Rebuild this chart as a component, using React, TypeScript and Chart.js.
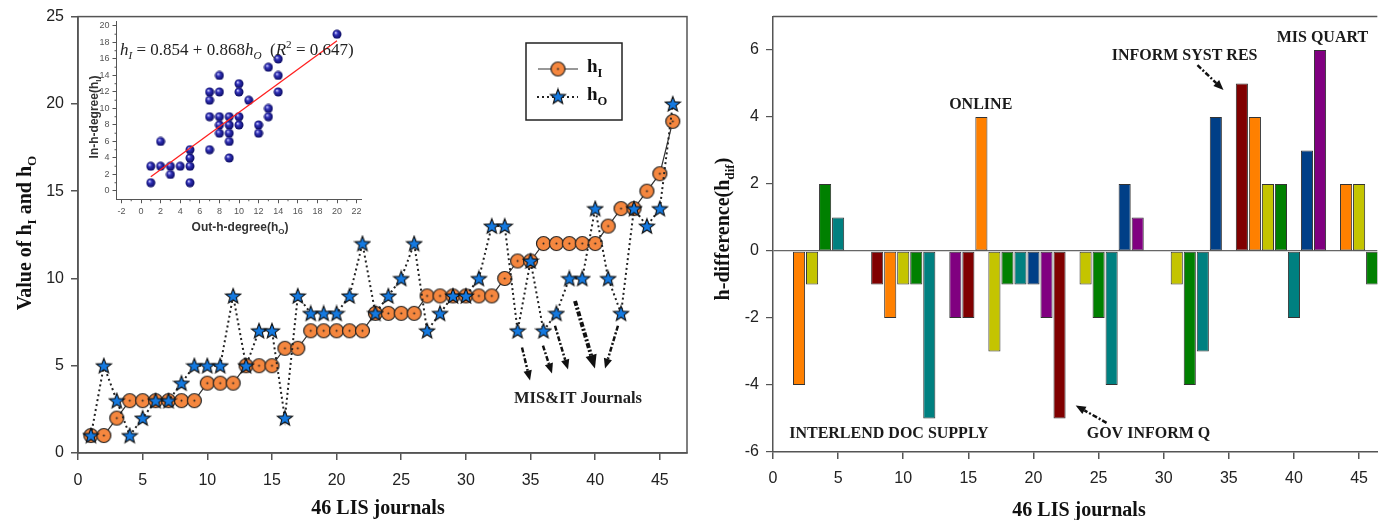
import React, { useEffect, useRef } from 'react';
import { Chart, registerables } from 'chart.js';

Chart.register(...registerables);

// ---------------- data ----------------
const journals = [1,2,3,4,5,6,7,8,9,10,11,12,13,14,15,16,17,18,19,20,21,22,23,24,25,26,27,28,29,30,31,32,33,34,35,36,37,38,39,40,41,42,43,44,45,46];
const hI = [1,1,2,3,3,3,3,3,3,4,4,4,5,5,5,6,6,7,7,7,7,7,8,8,8,8,9,9,9,9,9,9,10,11,11,12,12,12,12,12,13,14,14,15,16,19];
const hO = [1,5,3,1,2,3,3,4,5,5,5,9,5,7,7,2,9,8,8,8,9,12,8,9,10,12,7,8,9,9,10,13,13,7,11,7,8,10,10,14,10,8,14,13,14,20];
const hDif = [0,-4,-1,2,1,0,0,-1,-2,-1,-1,-5,0,-2,-2,4,-3,-1,-1,-1,-2,-5,0,-1,-2,-4,2,1,0,0,-1,-4,-3,4,0,5,4,2,2,-2,3,6,0,2,2,-1];
const insetHO = [1,1,2,2,3,3,4,5,5,5,5,7,7,7,7,8,8,8,8,8,9,9,9,9,9,10,10,10,10,11,12,12,13,13,13,14,14,14,20];
const insetHI = [1,3,6,3,3,2,3,1,3,4,5,5,9,11,12,14,12,9,8,7,9,8,7,6,4,13,12,9,8,11,8,7,15,10,9,16,14,12,19];
const regX = [1, 20];
const regY = [1.72, 18.21];

// ---------------- styles / annotations ----------------
const barPalette = ['#800080', '#800000', '#FF8000', '#C4C400', '#008000', '#008080', '#003F87'];
const SERIF = '"Liberation Serif", "Times New Roman", serif';
const SANS = '"Liberation Sans", Arial, sans-serif';
// [x1, y1, x2, y2, width] in data coordinates
const misArrows = [
  [34.34, 6.04, 34.96, 4.16, 2.5],
  [35.96, 6.15, 36.66, 4.56, 2.5],
  [36.89, 7.29, 37.9, 4.78, 2.5],
  [38.44, 8.71, 39.98, 4.84, 4],
  [41.76, 7.29, 40.76, 4.84, 2.5],
];
const rightLabels: [string, number, number][] = [
  ['ONLINE', 15.95, 4.37],
  ['INFORM SYST RES', 31.6, 5.84],
  ['MIS QUART', 42.18, 6.37],
  ['INTERLEND DOC SUPPLY', 8.9, -5.46],
  ['GOV INFORM Q', 28.83, -5.46],
];
const rightArrows = [
  [32.59, 5.55, 34.59, 4.81, 2.5],
  [25.61, -5.13, 23.24, -4.61, 2.5],
];

type Seg = { t: string; sub?: boolean; sup?: boolean; italic?: boolean };

function drawRich(ctx: CanvasRenderingContext2D, segs: Seg[], x: number, y: number,
  o: { size: number; family: string; weight?: string; italic?: boolean; align?: 'center' | 'left'; rotate?: boolean; color?: string }) {
  ctx.save();
  ctx.translate(x, y);
  if (o.rotate) ctx.rotate(-Math.PI / 2);
  ctx.fillStyle = o.color || '#111';
  ctx.textBaseline = 'alphabetic';
  ctx.textAlign = 'left';
  const fontFor = (s: Seg) => {
    const sz = s.sub || s.sup ? o.size * 0.66 : o.size;
    const it = (s.italic ?? o.italic) ? 'italic ' : '';
    return `${it}${o.weight || 'normal'} ${sz}px ${o.family}`;
  };
  let w = 0;
  for (const s of segs) { ctx.font = fontFor(s); w += ctx.measureText(s.t).width; }
  let cx = o.align === 'left' ? 0 : -w / 2;
  const base = o.size * 0.34;
  for (const s of segs) {
    ctx.font = fontFor(s);
    const dy = s.sub ? o.size * 0.26 : s.sup ? -o.size * 0.38 : 0;
    ctx.fillText(s.t, cx, base + dy);
    cx += ctx.measureText(s.t).width;
  }
  ctx.restore();
}

function drawArrow(ctx: CanvasRenderingContext2D, x1: number, y1: number, x2: number, y2: number, w: number) {
  const ang = Math.atan2(y2 - y1, x2 - x1);
  const head = 4 + w * 2.4;
  const hx = x2 - head * Math.cos(ang), hy = y2 - head * Math.sin(ang);
  ctx.save();
  ctx.strokeStyle = '#111';
  ctx.fillStyle = '#111';
  ctx.lineWidth = w;
  ctx.setLineDash([5, 2, 2, 2]);
  ctx.beginPath(); ctx.moveTo(x1, y1); ctx.lineTo(hx, hy); ctx.stroke();
  ctx.setLineDash([]);
  const px = -Math.sin(ang), py = Math.cos(ang);
  const hw = head * 0.42;
  ctx.beginPath();
  ctx.moveTo(x2, y2);
  ctx.lineTo(hx + px * hw, hy + py * hw);
  ctx.lineTo(hx - px * hw, hy - py * hw);
  ctx.closePath(); ctx.fill();
  ctx.restore();
}

function makeCircle() {
  const c = document.createElement('canvas'); c.width = 17; c.height = 17;
  const g = c.getContext('2d')!;
  g.beginPath(); g.arc(8.5, 8.5, 7, 0, Math.PI * 2);
  g.fillStyle = '#F5873F'; g.fill();
  g.lineWidth = 1.2; g.strokeStyle = '#222'; g.stroke();
  g.beginPath(); g.arc(8.5, 8.5, 1, 0, Math.PI * 2); g.fillStyle = '#222'; g.fill();
  return c;
}
function makeStar() {
  const c = document.createElement('canvas'); c.width = 18; c.height = 18;
  const g = c.getContext('2d')!;
  g.beginPath();
  for (let i = 0; i < 10; i++) {
    const r = i % 2 === 0 ? 8 : 3.4;
    const a = -Math.PI / 2 + i * Math.PI / 5;
    const px = 9 + r * Math.cos(a), py = 9.6 + r * Math.sin(a);
    if (i === 0) g.moveTo(px, py); else g.lineTo(px, py);
  }
  g.closePath();
  g.fillStyle = '#1479E0'; g.fill();
  g.lineWidth = 1.1; g.strokeStyle = '#111'; g.stroke();
  return c;
}
function makeSphere() {
  const c = document.createElement('canvas'); c.width = 10; c.height = 10;
  const g = c.getContext('2d')!;
  const gr = g.createRadialGradient(3.6, 3.4, 0.3, 5, 5, 4.8);
  gr.addColorStop(0, '#c8c8ff');
  gr.addColorStop(0.35, '#3030b8');
  gr.addColorStop(1, '#08085a');
  g.beginPath(); g.arc(5, 5, 4.5, 0, Math.PI * 2); g.fillStyle = gr; g.fill();
  return c;
}

const tickFont = { family: SANS, size: 16 };

export default function App() {
  const leftRef = useRef<HTMLCanvasElement>(null);
  const insetRef = useRef<HTMLCanvasElement>(null);
  const rightRef = useRef<HTMLCanvasElement>(null);

  useEffect(() => {
    const circleImg = makeCircle();
    const starImg = makeStar();
    const sphereImg = makeSphere();

    const leftDecor = {
      id: 'leftDecor',
      afterDraw(chart: any) {
        const { ctx, chartArea: a, scales: { x, y } } = chart;
        ctx.save();
        ctx.strokeStyle = '#555'; ctx.lineWidth = 1.5;
        ctx.strokeRect(a.left, a.top, a.right - a.left, a.bottom - a.top);
        // legend
        ctx.strokeStyle = '#222'; ctx.lineWidth = 1.5;
        ctx.strokeRect(526, 43, 96, 77);
        ctx.lineWidth = 1.2; ctx.strokeStyle = '#333';
        ctx.beginPath(); ctx.moveTo(538, 69); ctx.lineTo(578, 69); ctx.stroke();
        ctx.drawImage(circleImg, 558 - 8.5, 69 - 8.5);
        ctx.lineWidth = 2; ctx.strokeStyle = '#222'; ctx.setLineDash([2, 3]);
        ctx.beginPath(); ctx.moveTo(537, 97); ctx.lineTo(578, 97); ctx.stroke();
        ctx.setLineDash([]);
        ctx.drawImage(starImg, 558 - 9, 97 - 9.6);
        drawRich(ctx, [{ t: 'h' }, { t: 'I', sub: true }], 587, 66, { size: 19, family: SERIF, weight: 'bold', align: 'left' });
        drawRich(ctx, [{ t: 'h' }, { t: 'O', sub: true }], 587, 94, { size: 19, family: SERIF, weight: 'bold', align: 'left' });
        // arrows & text
        for (const ar of misArrows) {
          drawArrow(ctx, x.getPixelForValue(ar[0]), y.getPixelForValue(ar[1]), x.getPixelForValue(ar[2]), y.getPixelForValue(ar[3]), ar[4]);
        }
        ctx.fillStyle = '#222';
        ctx.font = `bold 16.5px ${SERIF}`;
        ctx.textAlign = 'center'; ctx.textBaseline = 'middle';
        ctx.fillText('MIS&IT Journals', x.getPixelForValue(38.67), y.getPixelForValue(3.13));
        // axis titles
        drawRich(ctx, [{ t: 'Value of h' }, { t: 'I', sub: true }, { t: ' and h' }, { t: 'O', sub: true }], 24, 233, { size: 20, family: SERIF, weight: 'bold', rotate: true, color: '#111' });
        drawRich(ctx, [{ t: '46 LIS journals' }], 378, 507, { size: 20, family: SERIF, weight: 'bold', color: '#111' });
        ctx.restore();
      },
    };

    const left = new Chart(leftRef.current!, {
      type: 'line',
      data: {
        datasets: [
          {
            label: 'hO',
            data: journals.map((j, i) => ({ x: j, y: hO[i] })),
            borderColor: '#222', borderWidth: 2, borderDash: [2, 3],
            pointStyle: starImg as any, pointRadius: 8, order: 1,
          },
          {
            label: 'hI',
            data: journals.map((j, i) => ({ x: j, y: hI[i] })),
            borderColor: '#333', borderWidth: 1.2,
            pointStyle: circleImg as any, pointRadius: 8, order: 2,
          },
        ],
      },
      options: {
        animation: false, responsive: false, maintainAspectRatio: false,
        layout: { padding: { top: 14, right: 13, left: 0, bottom: 0 } },
        plugins: { legend: { display: false }, tooltip: { enabled: false } },
        scales: {
          x: {
            type: 'linear', min: 0, max: 47.1,
            ticks: { stepSize: 5, includeBounds: false, autoSkip: false, maxRotation: 0, font: tickFont, color: '#222', padding: 11 },
            grid: { drawOnChartArea: false, tickLength: 7, color: '#555', lineWidth: 1.5 },
            border: { color: '#555', width: 1.5 },
            afterFit: (s: any) => { s.height = 67; },
          },
          y: {
            type: 'linear', min: 0, max: 25,
            ticks: { stepSize: 5, includeBounds: false, font: tickFont, color: '#222', padding: 7 },
            grid: { drawOnChartArea: false, tickLength: 7, color: '#555', lineWidth: 1.5 },
            border: { color: '#555', width: 1.5 },
            afterFit: (s: any) => { s.width = 78; },
          },
        },
      } as any,
      plugins: [leftDecor],
    });

    const insetDecor = {
      id: 'insetDecor',
      afterDraw(chart: any) {
        const { ctx, chartArea: a, scales: { x, y } } = chart;
        ctx.save();
        ctx.strokeStyle = '#555'; ctx.lineWidth = 1;
        for (let v = -1; v <= 21; v += 2) {
          const px = x.getPixelForValue(v);
          ctx.beginPath(); ctx.moveTo(px, a.bottom); ctx.lineTo(px, a.bottom + 2); ctx.stroke();
        }
        for (let v = 1; v <= 19; v += 2) {
          const py = y.getPixelForValue(v);
          ctx.beginPath(); ctx.moveTo(a.left, py); ctx.lineTo(a.left - 2, py); ctx.stroke();
        }
        drawRich(ctx, [
          { t: 'h', italic: true }, { t: 'I', sub: true, italic: true }, { t: ' = 0.854 + 0.868' },
          { t: 'h', italic: true }, { t: 'O', sub: true, italic: true }, { t: '  (' },
          { t: 'R', italic: true }, { t: '2', sup: true }, { t: ' = 0.647)' },
        ], 40, 39, { size: 17, family: SERIF, align: 'left', color: '#222' });
        drawRich(ctx, [{ t: 'In-h-degree(h' }, { t: 'I', sub: true }, { t: ')' }], 14, 107, { size: 12, family: SANS, weight: 'bold', rotate: true, color: '#333' });
        drawRich(ctx, [{ t: 'Out-h-degree(h' }, { t: 'O', sub: true }, { t: ')' }], 160, 217, { size: 12, family: SANS, weight: 'bold', color: '#333' });
        ctx.restore();
      },
    };

    const inset = new Chart(insetRef.current!, {
      type: 'scatter',
      data: {
        datasets: [
          {
            label: 'reg',
            type: 'line',
            data: regX.map((v, i) => ({ x: v, y: regY[i] })),
            borderColor: '#FF2020', borderWidth: 1.3, pointRadius: 0, showLine: true, order: 0,
          } as any,
          {
            label: 'journals',
            data: insetHO.map((v, i) => ({ x: v, y: insetHI[i] })),
            pointStyle: sphereImg as any, pointRadius: 5, order: 1,
          },
        ],
      },
      options: {
        animation: false, responsive: false, maintainAspectRatio: false,
        layout: { padding: { top: 11, right: 8.5, left: 0, bottom: 0 } },
        plugins: { legend: { display: false }, tooltip: { enabled: false } },
        scales: {
          x: {
            type: 'linear', min: -2.5, max: 22.5,
            ticks: { stepSize: 2, includeBounds: false, autoSkip: false, maxRotation: 0, font: { family: SANS, size: 9 }, color: '#555', padding: 3 },
            grid: { drawOnChartArea: false, tickLength: 4, color: '#555' },
            border: { color: '#555', width: 1 },
            afterFit: (s: any) => { s.height = 45.75; },
          },
          y: {
            type: 'linear', min: -1, max: 20.6,
            ticks: { stepSize: 2, includeBounds: false, autoSkip: false, font: { family: SANS, size: 9 }, color: '#555', padding: 3 },
            grid: { drawOnChartArea: false, tickLength: 4, color: '#555' },
            border: { color: '#555', width: 1 },
            afterFit: (s: any) => { s.width = 36.5; },
          },
        },
      } as any,
      plugins: [insetDecor],
    });

    const rightDecor = {
      id: 'rightDecor',
      afterDraw(chart: any) {
        const { ctx, chartArea: a, scales: { x, y } } = chart;
        ctx.save();
        ctx.strokeStyle = '#555'; ctx.lineWidth = 1.5;
        ctx.beginPath(); ctx.moveTo(a.left, a.top); ctx.lineTo(a.right, a.top); ctx.stroke();
        ctx.fillStyle = '#1a1a1a';
        ctx.font = `bold 16px ${SERIF}`;
        ctx.textAlign = 'center'; ctx.textBaseline = 'middle';
        for (const [t, vx, vy] of rightLabels) {
          ctx.fillText(t, x.getPixelForValue(vx), y.getPixelForValue(vy));
        }
        for (const ar of rightArrows) {
          drawArrow(ctx, x.getPixelForValue(ar[0]), y.getPixelForValue(ar[1]), x.getPixelForValue(ar[2]), y.getPixelForValue(ar[3]), ar[4]);
        }
        drawRich(ctx, [{ t: 'h-difference(h' }, { t: 'dif', sub: true }, { t: ')' }], 32, 229, { size: 20, family: SERIF, weight: 'bold', rotate: true, color: '#111' });
        drawRich(ctx, [{ t: '46 LIS journals' }], 389, 509, { size: 20, family: SERIF, weight: 'bold', color: '#111' });
        ctx.restore();
      },
    };

    const right = new Chart(rightRef.current!, {
      type: 'bar',
      data: {
        datasets: [
          {
            label: 'hdif',
            data: journals.map((j, i) => ({ x: j, y: hDif[i] })),
            backgroundColor: journals.map((j) => barPalette[j % 7]),
            borderColor: '#333', borderWidth: 1, borderSkipped: false,
            barPercentage: 0.93, categoryPercentage: 1,
          },
        ],
      },
      options: {
        animation: false, responsive: false, maintainAspectRatio: false,
        layout: { padding: { top: 9, right: 0, left: 0, bottom: 0 } },
        plugins: { legend: { display: false }, tooltip: { enabled: false } },
        scales: {
          x: {
            type: 'linear', min: 0, max: 46.4, offset: false,
            ticks: { stepSize: 5, includeBounds: false, autoSkip: false, maxRotation: 0, font: tickFont, color: '#222', padding: 10 },
            grid: { drawOnChartArea: false, offset: false, tickLength: 7, color: '#555', lineWidth: 1.5 },
            border: { color: '#555', width: 1.5 },
            afterFit: (s: any) => { s.height = 68; },
          },
          y: {
            type: 'linear', min: -6, max: 7,
            ticks: { stepSize: 2, includeBounds: false, font: tickFont, color: '#222', padding: 7 },
            grid: {
              drawOnChartArea: true, tickLength: 7, lineWidth: 1.2,
              color: (c: any) => (c.tick && c.tick.value === 0 ? '#666' : 'rgba(0,0,0,0)'),
              tickColor: '#555',
            },
            border: { color: '#555', width: 1.5 },
            afterFit: (s: any) => { s.width = 83; },
          },
        },
      } as any,
      plugins: [rightDecor],
    });

    return () => { left.destroy(); inset.destroy(); right.destroy(); };
  }, []);

  return (
    <div style={{ position: 'absolute', left: 0, top: 0, width: 1378, height: 520, overflow: 'hidden', background: '#fff' }}>
      <canvas ref={leftRef} width={700} height={520} style={{ position: 'absolute', left: 0, top: 0, width: 700, height: 520 }} />
      <canvas ref={insetRef} width={290} height={235} style={{ position: 'absolute', left: 80, top: 10, width: 290, height: 235 }} />
      <canvas ref={rightRef} width={688} height={520} style={{ position: 'absolute', left: 690, top: 0, width: 688, height: 520 }} />
    </div>
  );
}
